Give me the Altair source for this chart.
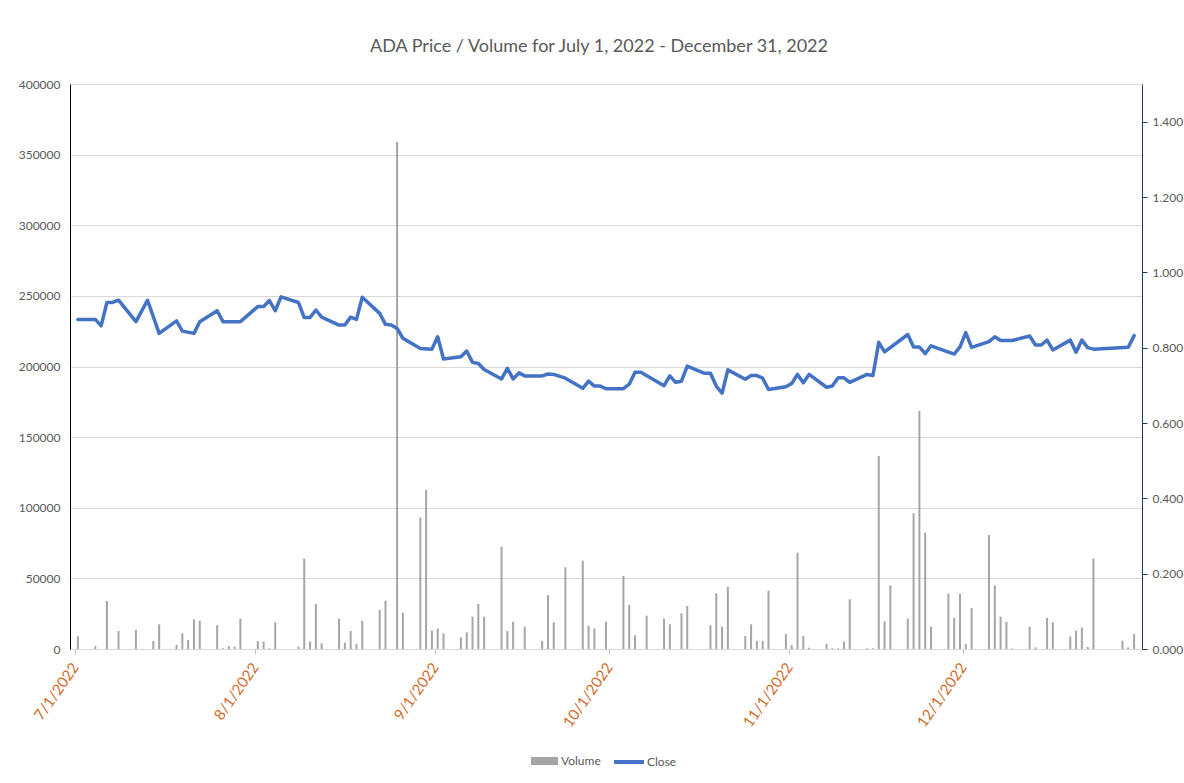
import altair as alt
import pandas as pd

# ---- data ----
close_dates = [
    "2022-07-01", "2022-07-04", "2022-07-05", "2022-07-06", "2022-07-07", "2022-07-08",
    "2022-07-11", "2022-07-13", "2022-07-15", "2022-07-18", "2022-07-19", "2022-07-21",
    "2022-07-22", "2022-07-25", "2022-07-26", "2022-07-29", "2022-08-01", "2022-08-02",
    "2022-08-03", "2022-08-04", "2022-08-05", "2022-08-08", "2022-08-09", "2022-08-10",
    "2022-08-11", "2022-08-12", "2022-08-15", "2022-08-16", "2022-08-17", "2022-08-18",
    "2022-08-19", "2022-08-22", "2022-08-23", "2022-08-24", "2022-08-25", "2022-08-26",
    "2022-08-29", "2022-08-31", "2022-09-01", "2022-09-02", "2022-09-05", "2022-09-06",
    "2022-09-07", "2022-09-08", "2022-09-09", "2022-09-12", "2022-09-13", "2022-09-14",
    "2022-09-15", "2022-09-16", "2022-09-19", "2022-09-20", "2022-09-21", "2022-09-23",
    "2022-09-26", "2022-09-27", "2022-09-28", "2022-09-29", "2022-09-30", "2022-10-03",
    "2022-10-04", "2022-10-05", "2022-10-06", "2022-10-10", "2022-10-11", "2022-10-12",
    "2022-10-13", "2022-10-14", "2022-10-17", "2022-10-18", "2022-10-19", "2022-10-20",
    "2022-10-21", "2022-10-24", "2022-10-25", "2022-10-26", "2022-10-27", "2022-10-28",
    "2022-10-31", "2022-11-01", "2022-11-02", "2022-11-03", "2022-11-04", "2022-11-07",
    "2022-11-08", "2022-11-09", "2022-11-10", "2022-11-11", "2022-11-14", "2022-11-15",
    "2022-11-16", "2022-11-17", "2022-11-21", "2022-11-22", "2022-11-23", "2022-11-24",
    "2022-11-25", "2022-11-29", "2022-11-30", "2022-12-01", "2022-12-02", "2022-12-05",
    "2022-12-06", "2022-12-07", "2022-12-09", "2022-12-12", "2022-12-13", "2022-12-14",
    "2022-12-15", "2022-12-16", "2022-12-19", "2022-12-20", "2022-12-21", "2022-12-22",
    "2022-12-23", "2022-12-29", "2022-12-30",
]
close_values = [
    0.875, 0.875, 0.858, 0.920, 0.920, 0.926,
    0.869, 0.926, 0.838, 0.871, 0.844, 0.838,
    0.869, 0.898, 0.869, 0.869, 0.909, 0.909,
    0.925, 0.898, 0.935, 0.920, 0.880, 0.880,
    0.900, 0.881, 0.860, 0.860, 0.881, 0.875,
    0.934, 0.891, 0.862, 0.860, 0.851, 0.825,
    0.798, 0.796, 0.829, 0.770, 0.776, 0.791,
    0.761, 0.758, 0.742, 0.717, 0.745, 0.717,
    0.733, 0.725, 0.725, 0.730, 0.729, 0.719,
    0.692, 0.711, 0.698, 0.698, 0.691, 0.691,
    0.703, 0.735, 0.735, 0.699, 0.725, 0.708,
    0.711, 0.751, 0.732, 0.732, 0.698, 0.679,
    0.741, 0.716, 0.726, 0.726, 0.719, 0.689,
    0.696, 0.705, 0.729, 0.707, 0.729, 0.695,
    0.698, 0.720, 0.720, 0.708, 0.729, 0.726,
    0.814, 0.789, 0.835, 0.802, 0.802, 0.784,
    0.805, 0.783, 0.802, 0.840, 0.801, 0.816,
    0.829, 0.819, 0.819, 0.831, 0.807, 0.807,
    0.820, 0.794, 0.820, 0.788, 0.820, 0.800,
    0.796, 0.801, 0.832,
]

volume_dates = [
    "2022-07-01", "2022-07-04", "2022-07-06", "2022-07-08", "2022-07-11", "2022-07-14",
    "2022-07-15", "2022-07-18", "2022-07-19", "2022-07-20", "2022-07-21", "2022-07-22",
    "2022-07-25", "2022-07-26", "2022-07-27", "2022-07-28", "2022-07-29", "2022-08-01",
    "2022-08-02", "2022-08-03", "2022-08-04", "2022-08-08", "2022-08-09", "2022-08-10",
    "2022-08-11", "2022-08-12", "2022-08-15", "2022-08-16", "2022-08-17", "2022-08-18",
    "2022-08-19", "2022-08-22", "2022-08-23", "2022-08-25", "2022-08-26", "2022-08-29",
    "2022-08-30", "2022-08-31", "2022-09-01", "2022-09-02", "2022-09-05", "2022-09-06",
    "2022-09-07", "2022-09-08", "2022-09-09", "2022-09-12", "2022-09-13", "2022-09-14",
    "2022-09-16", "2022-09-19", "2022-09-20", "2022-09-21", "2022-09-23", "2022-09-26",
    "2022-09-27", "2022-09-28", "2022-09-30", "2022-10-03", "2022-10-04", "2022-10-05",
    "2022-10-07", "2022-10-10", "2022-10-11", "2022-10-13", "2022-10-14", "2022-10-18",
    "2022-10-19", "2022-10-20", "2022-10-21", "2022-10-24", "2022-10-25", "2022-10-26",
    "2022-10-27", "2022-10-28", "2022-10-31", "2022-11-01", "2022-11-02", "2022-11-03",
    "2022-11-04", "2022-11-07", "2022-11-08", "2022-11-09", "2022-11-10", "2022-11-11",
    "2022-11-14", "2022-11-15", "2022-11-16", "2022-11-17", "2022-11-18", "2022-11-21",
    "2022-11-22", "2022-11-23", "2022-11-24", "2022-11-25", "2022-11-28", "2022-11-29",
    "2022-11-30", "2022-12-01", "2022-12-02", "2022-12-05", "2022-12-06", "2022-12-07",
    "2022-12-08", "2022-12-09", "2022-12-12", "2022-12-13", "2022-12-15", "2022-12-16",
    "2022-12-19", "2022-12-20", "2022-12-21", "2022-12-22", "2022-12-23", "2022-12-28",
    "2022-12-29", "2022-12-30",
]
volume_values = [
    9000, 2000, 34000, 12700, 13500, 5700,
    17500, 2800, 11100, 6400, 21000, 20000,
    16800, 500, 2100, 1600, 21500, 5700,
    5200, 500, 18900, 1600, 64000, 5200,
    31900, 4000, 21500, 4500, 12700, 3500,
    20000, 27600, 34200, 359000, 25700, 93000,
    112600, 13000, 14400, 11100, 8300, 11800,
    22900, 31900, 22900, 72400, 12700, 19300,
    15800, 5700, 38200, 18900, 57900, 62500,
    16500, 14600, 19300, 51700, 31200, 9700,
    23600, 21500, 17500, 25300, 30500, 16800,
    39400, 15800, 44100, 9200, 17500, 5700,
    5700, 41300, 10600, 2800, 68200, 9200,
    900, 3500, 500, 500, 5200, 35200,
    500, 500, 136700, 19600, 45100, 21500,
    96100, 168500, 82400, 15800, 39200, 22000,
    39200, 3500, 28900, 80700, 45000, 22900,
    19400, 400, 15800, 1100, 22000, 18900,
    8900, 13000, 15200, 1400, 64100, 5900,
    1100, 10600,
]

month_ticks = [(2022, m) for m in [7, 8, 9, 10, 11, 12]]
volume_ticks = list(range(0, 400001, 50000))
price_ticks = [0.0, 0.2, 0.4, 0.6, 0.8, 1.0, 1.2, 1.4]

TEXT = "#595959"
FONT = "Lato"

vol_df = pd.DataFrame({"date": volume_dates, "Volume": volume_values})
close_df = pd.DataFrame({"date": close_dates, "Close": close_values})

x_scale = alt.Scale(
    type="utc",
    domain=[alt.DateTime(year=2022, month=7, date=1, utc=True),
            alt.DateTime(year=2022, month=12, date=31, utc=True)],
)
x_axis = alt.Axis(
    title=None,
    values=[alt.DateTime(year=y, month=m, date=1, utc=True) for y, m in month_ticks],
    labelExpr="utcFormat(datum.value, '%-m/%-d/%Y')",
    labelAngle=305,
    labelAlign="right",
    labelBaseline="middle",
    labelColor="#D06A2A",
    labelFontSize=15,
    labelPadding=10,
    domainColor="#D9D9D9",
    tickColor="#BFBFBF",
    tickSize=5,
    grid=False,
    labelOverlap=False,
)

x_enc = alt.X("t:T", scale=x_scale, axis=x_axis)

bars = alt.Chart(vol_df).transform_calculate(
    t="time(toDate(datum.date)) + 43200000",
    series="'Volume'",
).mark_bar(size=2).encode(
    x=x_enc,
    y=alt.Y(
        "Volume:Q",
        scale=alt.Scale(domain=[0, 400000], nice=False),
        axis=alt.Axis(
            title=None, orient="left", values=volume_ticks, format="d",
            labelColor=TEXT, labelFontSize=12, labelPadding=10,
            ticks=False, domainColor="#000000", grid=True, gridColor="#D9D9D9",
        ),
    ),
    color=alt.Color(
        "series:N",
        scale=alt.Scale(domain=["Volume"], range=["#A5A5A5"]),
        legend=alt.Legend(
            title=None, orient="none", legendX=461, legendY=668,
            symbolType="M-1,-0.45L2,-0.45L2,0.45L-1,0.45Z", symbolSize=324,
            symbolStrokeWidth=0, labelOffset=12, labelFontSize=12, labelColor=TEXT,
        ),
    ),
)

line = alt.Chart(close_df).transform_calculate(
    t="time(toDate(datum.date)) + 43200000",
    series="'Close'",
).mark_line(strokeWidth=3.5, strokeJoin="round", strokeCap="round").encode(
    x=x_enc,
    y=alt.Y(
        "Close:Q",
        scale=alt.Scale(domain=[0, 1.5], nice=False),
        axis=alt.Axis(
            title=None, orient="right", values=price_ticks, format=".3f",
            labelColor=TEXT, labelFontSize=12, labelPadding=5,
            ticks=True, tickSize=5, tickColor="#1F3864", domainColor="#1F3864",
            grid=False,
        ),
    ),
    color=alt.Color(
        "series:N",
        scale=alt.Scale(domain=["Close"], range=["#4472C4"]),
        legend=alt.Legend(
            title=None, orient="none", legendX=542, legendY=661,
            symbolType="stroke", symbolSize=900, symbolStrokeWidth=4,
            labelOffset=1, labelFontSize=12, labelColor=TEXT,
        ),
    ),
)

chart = alt.layer(bars, line).resolve_scale(
    y="independent", color="independent"
).properties(
    width=1072,
    height=565,
    autosize=alt.AutoSizeParams(type="none"),
    padding={"left": 70, "top": 84, "right": 42, "bottom": 134},
    title=alt.Title(
        "ADA Price / Volume for July 1, 2022 - December 31, 2022",
        fontSize=18, font=FONT, fontWeight="normal", color=TEXT,
        anchor="middle", offset=22, dx=-7,
    ),
).configure_view(stroke=None).configure_axis(
    labelFont=FONT
).configure_legend(labelFont=FONT)

chart.save("out.html", embed_options={"renderer": "svg", "actions": False})
